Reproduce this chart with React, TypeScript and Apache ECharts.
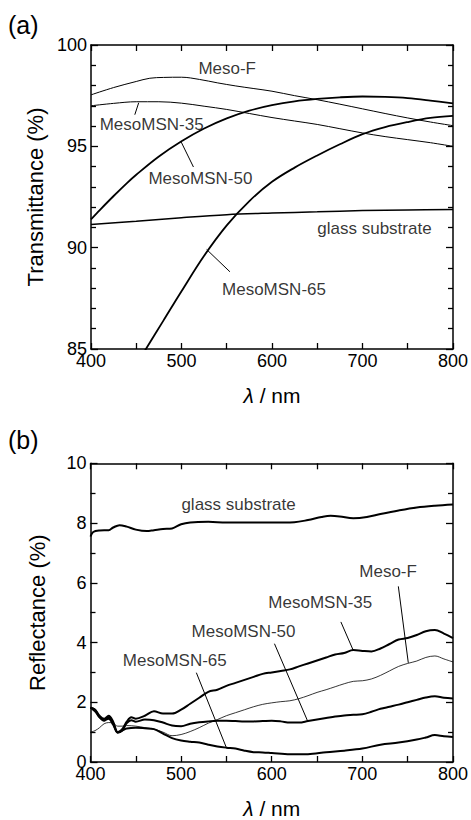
import React, { useEffect, useRef } from "react";
import * as echarts from "echarts";

// ---------- (a) Transmittance ----------
const tMesoF: [number, number][] = [
  [400, 97.54], [425, 97.9], [450, 98.2], [465, 98.36], [480, 98.4], [500, 98.41], [520, 98.3],
  [540, 98.13], [560, 97.98], [580, 97.85], [600, 97.72], [625, 97.5], [650, 97.3], [675, 97.08],
  [700, 96.85], [725, 96.62], [750, 96.4], [775, 96.2], [800, 96.02],
];
const tMSN35: [number, number][] = [
  [400, 97.0], [425, 97.12], [450, 97.2], [475, 97.2], [500, 97.13], [525, 96.98], [550, 96.82],
  [575, 96.62], [600, 96.42], [625, 96.25], [650, 96.08], [675, 95.87], [700, 95.66], [725, 95.48],
  [750, 95.33], [775, 95.18], [800, 95.0],
];
const tMSN50: [number, number][] = [
  [400, 91.4], [410, 91.87], [425, 92.55], [440, 93.2], [450, 93.6], [475, 94.5], [500, 95.25],
  [525, 95.88], [550, 96.38], [575, 96.76], [600, 97.03], [625, 97.22], [650, 97.34], [675, 97.42],
  [700, 97.46], [725, 97.44], [750, 97.38], [775, 97.26], [800, 97.12],
];
const tMSN65: [number, number][] = [
  [455, 84.6], [460, 84.95], [480, 86.4], [500, 87.85], [525, 89.6], [550, 91.1], [575, 92.3],
  [600, 93.25], [625, 93.95], [650, 94.55], [675, 95.1], [700, 95.6], [725, 95.95], [750, 96.2],
  [775, 96.4], [800, 96.5],
];
const tGlass: [number, number][] = [
  [400, 91.14], [450, 91.3], [500, 91.48], [550, 91.63], [600, 91.71], [650, 91.77], [700, 91.83],
  [750, 91.86], [800, 91.88],
];

// ---------- (b) Reflectance ----------
const rGlass: [number, number][] = [
  [400, 7.55], [403, 7.7], [410, 7.75], [420, 7.76], [425, 7.85], [432, 7.93], [440, 7.88],
  [450, 7.78], [462, 7.73], [470, 7.76], [480, 7.8], [490, 7.82], [500, 7.96], [510, 8.02],
  [530, 8.04], [550, 8.02], [575, 8.02], [600, 8.02], [625, 8.03], [640, 8.1], [655, 8.2],
  [665, 8.24], [675, 8.22], [690, 8.16], [705, 8.2], [720, 8.3], [740, 8.42], [760, 8.52],
  [780, 8.58], [800, 8.62],
];
const rMSN35: [number, number][] = [
  [400, 1.82], [405, 1.75], [410, 1.55], [415, 1.45], [420, 1.55], [425, 1.35], [430, 1.0],
  [435, 1.1], [440, 1.35], [445, 1.5], [450, 1.45], [460, 1.55], [470, 1.7], [480, 1.62],
  [490, 1.62], [500, 1.75], [510, 1.95], [520, 2.15], [530, 2.35], [540, 2.42], [550, 2.55],
  [560, 2.65], [570, 2.75], [580, 2.85], [590, 2.95], [600, 3.0], [610, 3.05], [620, 3.1],
  [630, 3.2], [640, 3.3], [650, 3.4], [660, 3.5], [670, 3.6], [680, 3.65], [690, 3.75],
  [700, 3.72], [710, 3.7], [720, 3.8], [730, 3.95], [740, 4.1], [750, 4.15], [760, 4.25],
  [770, 4.38], [780, 4.42], [790, 4.3], [800, 4.15],
];
const rMesoF: [number, number][] = [
  [400, 1.0], [405, 1.05], [410, 1.15], [415, 1.28], [420, 1.32], [425, 1.3], [430, 1.2],
  [435, 1.2], [440, 1.22], [450, 1.2], [460, 1.15], [470, 1.1], [480, 1.0], [490, 0.88],
  [500, 0.92], [510, 1.02], [520, 1.15], [530, 1.3], [540, 1.42], [550, 1.55], [560, 1.65],
  [570, 1.75], [580, 1.85], [590, 1.93], [600, 1.98], [610, 2.02], [620, 2.05], [630, 2.12],
  [640, 2.22], [650, 2.33], [660, 2.42], [670, 2.52], [680, 2.62], [690, 2.7], [700, 2.72],
  [710, 2.78], [720, 2.9], [730, 3.05], [740, 3.2], [750, 3.3], [760, 3.38], [770, 3.5],
  [780, 3.55], [790, 3.45], [800, 3.35],
];
const rMSN50: [number, number][] = [
  [400, 1.82], [405, 1.75], [410, 1.5], [415, 1.38], [420, 1.5], [425, 1.3], [430, 0.98],
  [435, 1.05], [440, 1.3], [445, 1.4], [450, 1.35], [460, 1.42], [470, 1.4], [480, 1.32],
  [490, 1.22], [500, 1.2], [510, 1.28], [520, 1.33], [530, 1.36], [540, 1.38], [550, 1.38],
  [560, 1.37], [570, 1.36], [580, 1.36], [590, 1.37], [600, 1.38], [610, 1.36], [620, 1.32],
  [630, 1.32], [640, 1.37], [650, 1.42], [660, 1.47], [670, 1.52], [680, 1.56], [690, 1.58],
  [700, 1.6], [710, 1.68], [720, 1.78], [730, 1.85], [740, 1.92], [750, 2.0], [760, 2.08],
  [770, 2.16], [780, 2.2], [790, 2.15], [800, 2.13],
];
const rMSN65: [number, number][] = [
  [400, 1.82], [405, 1.7], [410, 1.5], [415, 1.4], [420, 1.45], [425, 1.25], [430, 1.0],
  [435, 1.05], [440, 1.12], [450, 1.15], [460, 1.13], [470, 1.1], [480, 0.95], [490, 0.8],
  [500, 0.72], [510, 0.68], [520, 0.65], [530, 0.58], [540, 0.52], [550, 0.48], [560, 0.45],
  [570, 0.38], [580, 0.33], [590, 0.32], [600, 0.3], [620, 0.26], [640, 0.26], [660, 0.33],
  [680, 0.38], [700, 0.45], [720, 0.58], [740, 0.65], [760, 0.75], [770, 0.82], [780, 0.9],
  [790, 0.86], [800, 0.84],
];

// annotations: [x, y, label] in data coords; leaders: [x1,y1,x2,y2]
const labelsA: [number, number, string][] = [
  [550.5, 98.82, "Meso-F"],
  [467, 96.06, "MesoMSN-35"],
  [520.9, 93.4, "MesoMSN-50"],
  [713.2, 90.94, "glass substrate"],
  [602.2, 87.94, "MesoMSN-65"],
];
const leadersA: [number, number, number, number][] = [
  [448.4, 96.56, 452.7, 97.15],
  [499.7, 95.21, 513.2, 93.98],
  [527.8, 89.91, 553.5, 88.81],
];
const labelsB: [number, number, string][] = [
  [563.4, 8.62, "glass substrate"],
  [728.4, 6.38, "Meso-F"],
  [653.6, 5.33, "MesoMSN-35"],
  [568.9, 4.37, "MesoMSN-50"],
  [493, 3.41, "MesoMSN-65"],
];
const leadersB: [number, number, number, number][] = [
  [739.7, 5.88, 750.7, 3.32],
  [676.3, 4.69, 689.9, 3.74],
  [603, 3.96, 639.6, 1.37],
  [516.8, 2.99, 549.8, 0.49],
];

const FONT = "'Liberation Sans', Arial, Helvetica, sans-serif";
const BLACK = "#000";

function xAx(grid: number, top: boolean) {
  const a: any = {
    type: "value",
    gridIndex: grid,
    position: top ? "top" : "bottom",
    min: 400,
    max: 800,
    interval: 100,
    axisLine: { show: true, onZero: false, lineStyle: { color: BLACK, width: 1.5 } },
    axisTick: { show: true, inside: true, length: 6, lineStyle: { color: BLACK, width: 1.3 } },
    minorTick: { show: true, splitNumber: 2, length: 6, lineStyle: { color: BLACK, width: 1.3 } },
    splitLine: { show: false },
    axisLabel: { show: !top, color: BLACK, fontSize: 18, fontFamily: FONT, margin: 3 },
  };
  if (!top) {
    a.name = "{i|λ} / nm";
    a.nameLocation = "middle";
    a.nameGap = 36;
    a.nameTextStyle = {
      color: BLACK,
      fontSize: 21,
      fontFamily: FONT,
      verticalAlign: "top",
      rich: { i: { fontStyle: "italic", fontSize: 21, fontFamily: FONT, color: BLACK } },
    };
  }
  return a;
}

function yAx(grid: number, right: boolean, min: number, max: number, interval: number, minor: number, name: string) {
  const a: any = {
    type: "value",
    gridIndex: grid,
    position: right ? "right" : "left",
    min,
    max,
    interval,
    axisLine: { show: true, onZero: false, lineStyle: { color: BLACK, width: 1.5 } },
    axisTick: { show: true, inside: true, length: 7, lineStyle: { color: BLACK, width: 1.3 } },
    minorTick: { show: true, splitNumber: minor, length: 5, lineStyle: { color: BLACK, width: 1.3 } },
    splitLine: { show: false },
    axisLabel: { show: !right, color: BLACK, fontSize: 18, fontFamily: FONT, margin: 4 },
  };
  if (!right) {
    a.name = name;
    a.nameLocation = "middle";
    a.nameGap = 42;
    a.nameTextStyle = { color: BLACK, fontSize: 22, fontFamily: FONT };
  }
  return a;
}

function lineSeries(data: [number, number][], xi: number, yi: number, width: number) {
  return {
    type: "line",
    xAxisIndex: xi,
    yAxisIndex: yi,
    data,
    symbol: "none",
    smooth: 0.35,
    silent: true,
    lineStyle: { color: BLACK, width },
  };
}

function leaderSeries(l: [number, number, number, number], xi: number, yi: number) {
  return {
    type: "line",
    xAxisIndex: xi,
    yAxisIndex: yi,
    data: [[l[0], l[1]], [l[2], l[3]]],
    symbol: "none",
    silent: true,
    lineStyle: { color: BLACK, width: 1 },
  };
}

function labelSeries(labels: [number, number, string][], xi: number, yi: number) {
  return {
    type: "scatter",
    xAxisIndex: xi,
    yAxisIndex: yi,
    data: labels,
    symbolSize: 0,
    silent: true,
    z: 5,
    label: {
      show: true,
      position: "inside",
      color: BLACK,
      fontSize: 17,
      fontFamily: FONT,
      formatter: (p: any) => p.data[2],
    },
    labelLayout: { hideOverlap: false },
  };
}

export default function App() {
  const ref = useRef<HTMLDivElement>(null);
  useEffect(() => {
    if (!ref.current) return;
    const chart = echarts.init(ref.current, null, { renderer: "svg" });
    const xAxis = [xAx(0, false), xAx(0, true), xAx(1, false), xAx(1, true)];
    const yAxis = [
      yAx(0, false, 85, 100, 5, 5, "Transmittance (%)"),
      yAx(0, true, 85, 100, 5, 5, ""),
      yAx(1, false, 0, 10, 2, 2, "Reflectance (%)"),
      yAx(1, true, 0, 10, 2, 2, ""),
    ];
    const grids = [
      { left: 91, top: 45, width: 364, height: 304 },
      { left: 90.5, top: 463.3, width: 363.5, height: 303.4 },
    ];
    const series: any[] = [
      lineSeries(tMesoF, 0, 0, 1),
      lineSeries(tMSN35, 0, 0, 1),
      lineSeries(tMSN50, 0, 0, 1.8),
      lineSeries(tMSN65, 0, 0, 1.8),
      lineSeries(tGlass, 0, 0, 1.5),
      ...leadersA.map((l) => leaderSeries(l, 0, 0)),
      labelSeries(labelsA, 0, 0),
      lineSeries(rGlass, 2, 2, 2),
      lineSeries(rMSN35, 2, 2, 2),
      lineSeries(rMesoF, 2, 2, 0.8),
      lineSeries(rMSN50, 2, 2, 2),
      lineSeries(rMSN65, 2, 2, 2),
      ...leadersB.map((l) => leaderSeries(l, 2, 2)),
      labelSeries(labelsB, 2, 2),
    ];
    chart.setOption({
      animation: false,
      grid: grids,
      xAxis,
      yAxis,
      series,
      graphic: [
        { type: "text", left: 8, top: 12, silent: true, style: { text: "(a)", fill: BLACK, fontSize: 25, fontFamily: FONT } },
        { type: "text", left: 8, top: 427, silent: true, style: { text: "(b)", fill: BLACK, fontSize: 25, fontFamily: FONT } },
      ],
    });
    return () => chart.dispose();
  }, []);
  return (
    <div
      ref={ref}
      style={{ position: "fixed", left: 0, top: 0, width: 471, height: 820, background: "#fff" }}
    />
  );
}
